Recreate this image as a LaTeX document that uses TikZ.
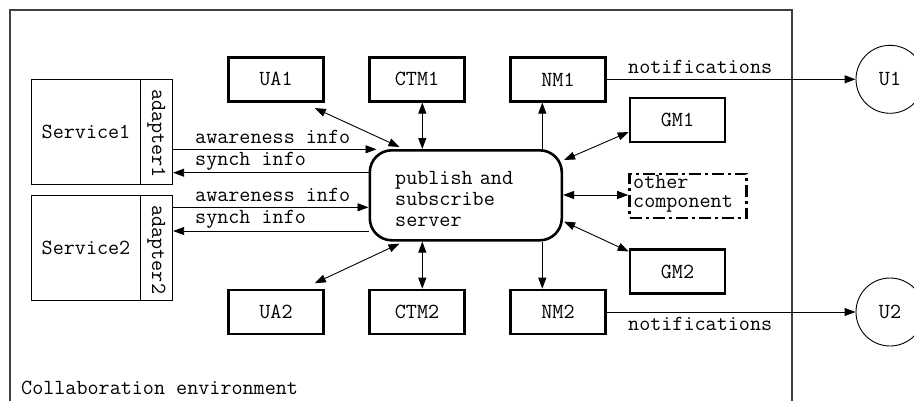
\documentclass[tikz,border=0pt]{standalone}
\usepackage{fontspec}
\usetikzlibrary{arrows.meta,calc}
\begin{document}
\begin{tikzpicture}[x=1pt,y=-1pt,
  every node/.style={font=\ttfamily\fontsize{21.5}{21}\selectfont, inner sep=0pt},
  comp/.style={draw, line width=2.6pt, minimum width=95pt, minimum height=44pt},
  svc/.style={draw, line width=0.9pt, minimum width=108.6pt, minimum height=104.7pt},
  adap/.style={draw, line width=0.9pt, minimum width=32.4pt, minimum height=104.7pt},
  user/.style={draw, circle, line width=0.9pt, minimum size=68pt},
  conn/.style={line width=0.9pt, -{Triangle[length=11pt,width=8pt]}},
  bconn/.style={line width=0.9pt, {Triangle[length=11pt,width=8pt]}-{Triangle[length=11pt,width=8pt]}},
  lbl/.style={anchor=west}]
\useasboundingbox (0,0) rectangle (914,400);
\clip (0,0) rectangle (914,400);
% frame
\draw[line width=1.2pt, black!75] (10,405) -- (10,10) -- (792,10) -- (792,405);
\node[anchor=west] (env) at (21,388) {Collaboration environment};

% services
\node[svc] (s1) at (86,131.7) {Service1};
\node[adap] (a1) at (156.5,131.7) {};
\node[rotate=-90] (a1t) at ([yshift=-2pt]a1) {adapter1};
\node[svc] (s2) at (86,247.8) {Service2};
\node[adap] (a2) at (156.5,247.8) {};
\node[rotate=-90] (a2t) at ([yshift=-2pt]a2) {adapter2};

% server
\node[draw, line width=2.6pt, rounded corners=22pt, minimum width=192pt, minimum height=90pt] (srv) at (465.8,195.3) {};
\node[anchor=west, align=left, text width=150pt] (srvt) at (395,199) {publish and\\subscribe\\server};

% components
\node[comp] (UA1) at (276,79.3) {UA1};
\node[comp] (CTM1) at (417,79.3) {CTM1};
\node[comp] (NM1) at (558,79.3) {NM1};
\node[comp] (GM1) at (677.5,120) {GM1};
\node[draw, line width=2.6pt, dash pattern=on 12pt off 4pt on 3pt off 4pt, minimum width=117pt, minimum height=44pt] (oth) at (688,196) {};
\node[anchor=west, align=left, text width=110pt, font=\ttfamily\fontsize{21.5}{19.5}\selectfont] (otht) at (633,194) {other\\component};
\node[comp] (GM2) at (677.5,271.5) {GM2};
\node[comp] (UA2) at (276,312) {UA2};
\node[comp] (CTM2) at (417,312) {CTM2};
\node[comp] (NM2) at (558,312) {NM2};

% users
\node[user] (U1) at (890,79.3) {U1};
\node[user] (U2) at (890,312) {U2};

% service arrows
\coordinate (aw1) at (a1.east |- 0,149.3);
\coordinate (sy1) at (a1.east |- 0,172.7);
\coordinate (aw2) at (a2.east |- 0,207.3);
\coordinate (sy2) at (a2.east |- 0,231);
\draw[conn] (aw1) -- ([xshift=8pt]aw1 -| srv.west);
\draw[conn] (sy1 -| srv.west) -- (sy1);
\draw[conn] (aw2) -- (aw2 -| srv.west);
\draw[conn] (sy2 -| srv.west) -- (sy2);
\node[lbl] (l1) at (195,137) {awareness info};
\node[lbl] (l2) at (195,161) {synch info};
\node[lbl] (l3) at (195,195) {awareness info};
\node[lbl] (l4) at (195,219) {synch info};

% component arrows
\draw[bconn] ([xshift=-10pt,yshift=-5.5pt]UA1.south east) -- ([xshift=31pt,yshift=2pt]srv.north west);
\draw[bconn] (CTM1.south -| 422.3,0) -- (srv.north -| 422.3,0);
\draw[conn] (srv.north -| 542.3,0) -- (NM1.south -| 542.3,0);
\draw[bconn] ([yshift=-12pt]GM1.west) -- ([xshift=1pt,yshift=-11pt]srv.north east);
\draw[bconn] (srv.east |- 0,195) -- (oth.west |- 0,195);
\draw[bconn] ([xshift=1pt,yshift=20pt]srv.south east) -- ([yshift=20pt]GM2.west);
\draw[bconn] ([xshift=-10pt,yshift=5.5pt]UA2.north east) -- ([xshift=31pt,yshift=-2pt]srv.south west);
\draw[bconn] (CTM2.north -| 422.3,0) -- (srv.south -| 422.3,0);
\draw[conn] (srv.south -| 542.3,0) -- (NM2.north -| 542.3,0);

% notifications
\draw[conn] (NM1.east) -- (U1.west);
\draw[conn] (NM2.east) -- (U2.west);
\node[lbl] (n1) at (628,67) {notifications};
\node[lbl] (n2) at (628,324) {notifications};
\end{tikzpicture}
\end{document}
